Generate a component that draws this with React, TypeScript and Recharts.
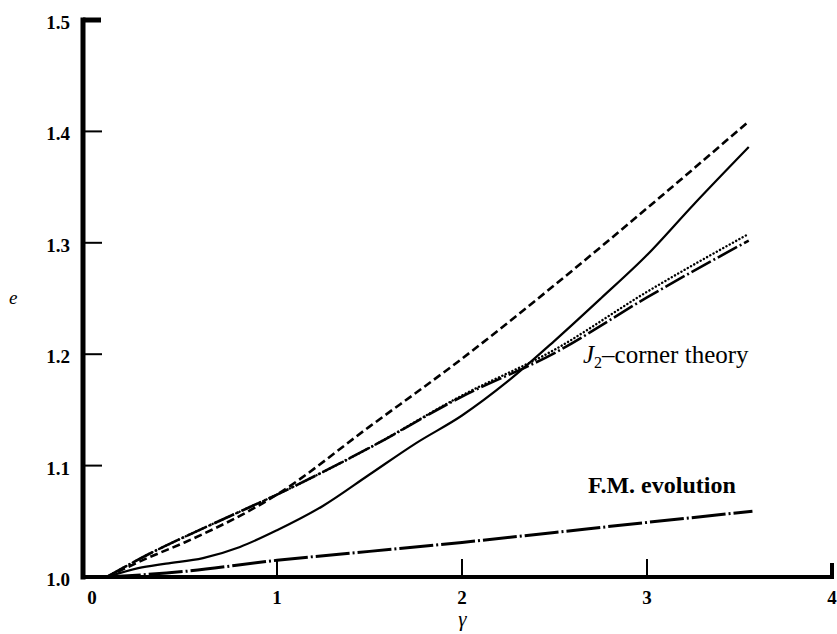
import React from "react"
import { LineChart, Line, XAxis, YAxis, ReferenceDot } from "recharts"

const xTicks = [0, 1, 2, 3, 4]
const yTicks = [1.0, 1.1, 1.2, 1.3, 1.4, 1.5]

// dashed curve (highest at large gamma)
const dashedX = [0.08, 0.3, 0.5, 1, 1.5, 2, 2.5, 3, 3.55]
const dashedY = [1.0, 1.017, 1.031, 1.074, 1.135, 1.196, 1.262, 1.331, 1.409]

// solid curve
const solidX = [0.08, 0.25, 0.4, 0.6, 0.8, 1, 1.25, 1.5, 1.75, 2, 2.25, 2.5, 2.75, 3, 3.25, 3.55]
const solidY = [1.0, 1.008, 1.012, 1.017, 1.027, 1.042, 1.064, 1.092, 1.12, 1.145, 1.176, 1.212, 1.25, 1.289, 1.334, 1.386]

// J2-corner theory, dotted
const cornerDotX = [0.08, 0.3, 0.5, 0.75, 1, 1.5, 2, 2.5, 3, 3.55]
const cornerDotY = [1.0, 1.02, 1.036, 1.055, 1.074, 1.116, 1.163, 1.204, 1.256, 1.308]

// J2-corner theory, long dash-dot
const cornerDashX = [0.08, 0.3, 0.5, 0.75, 1, 1.5, 2, 2.5, 3, 3.55]
const cornerDashY = [1.0, 1.02, 1.036, 1.055, 1.074, 1.116, 1.162, 1.201, 1.251, 1.302]

// F.M. evolution
const fmX = [0.08, 0.5, 1, 1.5, 2, 2.5, 3, 3.57]
const fmY = [1.0, 1.005, 1.015, 1.023, 1.031, 1.04, 1.049, 1.059]

const toPoints = (xs: number[], ys: number[]) => xs.map((x, i) => ({ x, y: ys[i] }))

const serif = "Liberation Serif"

function XTick({ x, y, payload }: any) {
  const v = payload.value
  const last = v === 4
  return (
    <g>
      {v !== 0 && (
        <line x1={x} x2={x} y1={y} y2={y - (last ? 14 : 18)} stroke="#000" strokeWidth={last ? 4 : 2} />
      )}
      <text x={x} y={y + 27} textAnchor="middle" fontFamily={serif} fontWeight="bold" fontSize={19} fill="#000">
        {v}
      </text>
    </g>
  )
}

function YTick({ x, y, payload }: any) {
  const v = payload.value
  const top = v === 1.5
  return (
    <g>
      {v !== 1.0 && (
        <line x1={x} x2={x + (top ? 18 : 19)} y1={y} y2={y} stroke="#000" strokeWidth={top ? 5 : 2} />
      )}
      <text x={x - 13} y={y + 9} textAnchor="end" fontFamily={serif} fontWeight="bold" fontSize={19} fill="#000">
        {v.toFixed(1)}
      </text>
    </g>
  )
}

export default function App() {
  return (
    <div style={{ position: "absolute", left: 0, top: 0, background: "#fff" }}>
      <LineChart width={837} height={634} margin={{ top: 20, right: 5, bottom: 0, left: 0 }}>
        <XAxis
          type="number"
          dataKey="x"
          domain={[0, 4]}
          ticks={xTicks}
          padding={{ left: 9, right: 0 }}
          height={57}
          tickSize={0}
          tickMargin={0}
          tickLine={false}
          tick={<XTick />}
          axisLine={{ stroke: "#000", strokeWidth: 4, strokeLinecap: "square" }}
          allowDataOverflow
          label={{
            content: ({ viewBox }: any) => (
              <text
                x={viewBox.x + viewBox.width / 2 + 5}
                y={viewBox.y + 49}
                textAnchor="middle"
                fontFamily={serif}
                fontStyle="italic"
                fontSize={21}
                fill="#000"
              >
                γ
              </text>
            ),
          }}
        />
        <YAxis
          type="number"
          dataKey="y"
          domain={[1.0, 1.5]}
          ticks={yTicks}
          width={83}
          tickSize={0}
          tickMargin={0}
          tickLine={false}
          tick={<YTick />}
          axisLine={{ stroke: "#000", strokeWidth: 5, strokeLinecap: "square" }}
          allowDataOverflow
          label={{
            content: ({ viewBox }: any) => (
              <text
                x={viewBox.x + 9}
                y={viewBox.y + viewBox.height / 2 + 5}
                fontFamily={serif}
                fontStyle="italic"
                fontSize={19}
                fill="#000"
              >
                e
              </text>
            ),
          }}
        />
        <Line
          data={toPoints(fmX, fmY)}
          dataKey="y"
          type="monotone"
          stroke="#000"
          strokeWidth={3}
          strokeDasharray="34 3 2 3"
          dot={false}
          activeDot={false}
          isAnimationActive={false}
        />
        <Line
          data={toPoints(solidX, solidY)}
          dataKey="y"
          type="monotone"
          stroke="#000"
          strokeWidth={2.2}
          dot={false}
          activeDot={false}
          isAnimationActive={false}
        />
        <Line
          data={toPoints(dashedX, dashedY)}
          dataKey="y"
          type="monotone"
          stroke="#000"
          strokeWidth={2.6}
          strokeDasharray="8 4"
          dot={false}
          activeDot={false}
          isAnimationActive={false}
        />
        <Line
          data={toPoints(cornerDashX, cornerDashY)}
          dataKey="y"
          type="monotone"
          stroke="#000"
          strokeWidth={2.6}
          strokeDasharray="22 3 2 3"
          dot={false}
          activeDot={false}
          isAnimationActive={false}
        />
        <Line
          data={toPoints(cornerDotX, cornerDotY)}
          dataKey="y"
          type="monotone"
          stroke="#000"
          strokeWidth={2.4}
          strokeDasharray="0.1 3.6"
          strokeLinecap="round"
          dot={false}
          activeDot={false}
          isAnimationActive={false}
        />
        <ReferenceDot
          x={2.654}
          y={1.192}
          r={0}
          fill="none"
          stroke="none"
          label={{
            content: ({ viewBox }: any) => (
              <text x={viewBox.x} y={viewBox.y} fontFamily={serif} fontSize={25} fill="#000">
                <tspan fontStyle="italic">J</tspan>
                <tspan dy={5} fontSize={16}>2</tspan>
                <tspan dy={-5}>–corner theory</tspan>
              </text>
            ),
          }}
        />
        <ReferenceDot
          x={2.681}
          y={1.0754}
          r={0}
          fill="none"
          stroke="none"
          label={{
            content: ({ viewBox }: any) => (
              <text x={viewBox.x} y={viewBox.y} fontFamily={serif} fontWeight="bold" fontSize={24} fill="#000">
                F.M. evolution
              </text>
            ),
          }}
        />
      </LineChart>
    </div>
  )
}
